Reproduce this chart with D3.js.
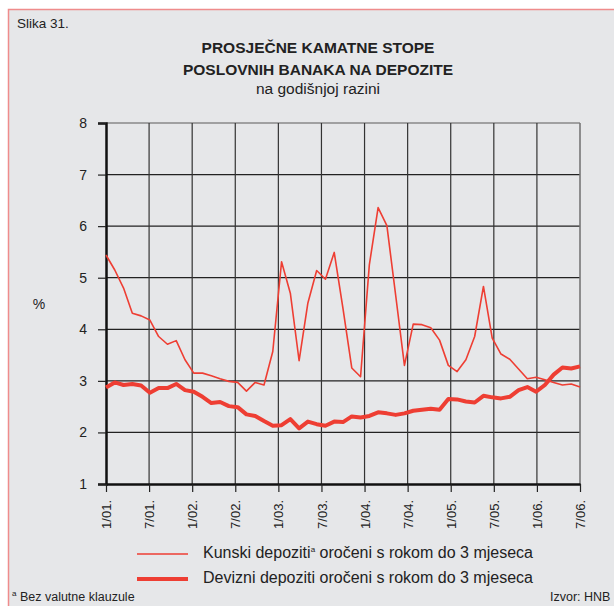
<!DOCTYPE html>
<meta charset="utf-8">
<style>
  body { margin: 0; background: #fff; }
  svg { font-family: "Liberation Sans", Arial, sans-serif; }
</style>
<svg width="614" height="606"></svg>
<script src="https://d3js.org/d3.v7.min.js"></script>
<script>

  // tick labels on the time axis (half-year steps)
  var tickLabels = ["1/01.", "7/01.", "1/02.", "7/02.", "1/03.", "7/03.",
    "1/04.", "7/04.", "1/05.", "7/05.", "1/06.", "7/06."];

  // Kunski depoziti oroceni s rokom do 3 mjeseca
  var kunski = [5.44, 5.15, 4.80, 4.31, 4.26, 4.18, 3.86, 3.71, 3.78, 3.41,
    3.15, 3.15, 3.10, 3.04, 2.99, 2.97, 2.80, 2.97, 2.92, 3.57,
    5.31, 4.70, 3.39, 4.51, 5.14, 4.97, 5.49, 4.40, 3.25, 3.08,
    5.25, 6.36, 6.01, 4.66, 3.30, 4.10, 4.09, 4.03, 3.79, 3.30,
    3.18, 3.41, 3.86, 4.83, 3.83, 3.52, 3.42, 3.23, 3.04, 3.07,
    3.02, 2.97, 2.92, 2.94, 2.88];

  // Devizni depoziti oroceni s rokom do 3 mjeseca
  var devizni = [2.87, 2.97, 2.92, 2.94, 2.91, 2.77, 2.86, 2.86, 2.94, 2.82,
    2.79, 2.69, 2.57, 2.59, 2.51, 2.49, 2.35, 2.32, 2.22, 2.13,
    2.14, 2.26, 2.08, 2.21, 2.16, 2.13, 2.21, 2.20, 2.31, 2.29,
    2.32, 2.39, 2.37, 2.34, 2.37, 2.42, 2.44, 2.46, 2.44, 2.65,
    2.64, 2.60, 2.58, 2.71, 2.68, 2.66, 2.69, 2.82, 2.88, 2.79,
    2.92, 3.12, 3.26, 3.24, 3.28];

  var yTicks = [1, 2, 3, 4, 5, 6, 7, 8];

  var red = "#ee3e33";

  var svg = d3.select("svg");

  // panel
  svg.append("rect")
    .attr("x", 8.5).attr("y", 9.5)
    .attr("width", 640).attr("height", 640)
    .attr("fill", "#e6e7e9")
    .attr("stroke", "#ef8c8c")
    .attr("stroke-width", 1.5);

  svg.append("text").attr("x", 17).attr("y", 28)
    .attr("font-size", 13.5).attr("fill", "#222").text("Slika 31.");

  var title = svg.append("g").attr("text-anchor", "middle").attr("fill", "#222");
  title.append("text").attr("x", 318).attr("y", 53)
    .attr("font-size", 15.5).attr("font-weight", "bold").text("PROSJEČNE KAMATNE STOPE");
  title.append("text").attr("x", 318).attr("y", 75)
    .attr("font-size", 15.5).attr("font-weight", "bold").text("POSLOVNIH BANAKA NA DEPOZITE");
  title.append("text").attr("x", 318).attr("y", 94)
    .attr("font-size", 15.5).text("na godišnjoj razini");

  var plotLeft = 106, plotRight = 580, plotTop = 123, plotBottom = 484;

  var x = d3.scaleLinear().domain([0, kunski.length - 1]).range([plotLeft, plotRight]);
  var xt = d3.scalePoint().domain(tickLabels).range([plotLeft, plotRight]);
  var y = d3.scaleLinear().domain([1, 8]).range([plotBottom, plotTop]);

  // horizontal grid
  svg.append("g")
    .selectAll("line").data(yTicks.slice(1)).enter().append("line")
    .attr("x1", plotLeft).attr("x2", plotRight)
    .attr("y1", function (d) { return y(d); })
    .attr("y2", function (d) { return y(d); })
    .attr("stroke", function (d) { return d === 8 ? "#888" : "#222"; })
    .attr("stroke-width", function (d) { return d === 8 ? 1.5 : 1.2; });

  // vertical grid
  svg.append("g")
    .selectAll("line").data(tickLabels.slice(1)).enter().append("line")
    .attr("x1", function (d) { return xt(d); })
    .attr("x2", function (d) { return xt(d); })
    .attr("y1", plotTop).attr("y2", plotBottom)
    .attr("stroke", function (d, i) { return i === tickLabels.length - 2 ? "#777" : "#333"; })
    .attr("stroke-width", function (d, i) { return i === tickLabels.length - 2 ? 1.6 : 1.2; });

  // y axis
  var yAxis = svg.append("g")
    .attr("transform", "translate(" + plotLeft + ",0)")
    .call(d3.axisLeft(y).tickValues(yTicks).tickSize(8).tickPadding(11)
      .tickFormat(d3.format("d")));
  yAxis.select(".domain").attr("stroke", "#111").attr("stroke-width", 2.5);
  yAxis.selectAll(".tick line").attr("stroke", "#222").attr("stroke-width", 1.2);
  yAxis.selectAll(".tick text").attr("font-size", 14).attr("fill", "#222")
    .attr("font-family", "Liberation Sans, Arial, sans-serif");

  // x axis
  var xAxis = svg.append("g")
    .attr("transform", "translate(0," + plotBottom + ")")
    .call(d3.axisBottom(xt).tickSize(8).tickSizeOuter(0));
  xAxis.select(".domain").attr("stroke", "#111").attr("stroke-width", 2.5);
  xAxis.selectAll(".tick line").attr("stroke", "#222").attr("stroke-width", 1.2);
  xAxis.selectAll(".tick text")
    .attr("font-size", 13).attr("fill", "#222")
    .attr("font-family", "Liberation Sans, Arial, sans-serif")
    .attr("text-anchor", "end")
    .attr("transform", "rotate(-90)")
    .attr("x", -16).attr("y", 0).attr("dy", "0.35em");

  svg.append("text").attr("x", 39).attr("y", 309)
    .attr("font-size", 14).attr("fill", "#222").attr("text-anchor", "middle").text("%");

  var line = d3.line()
    .x(function (d, i) { return x(i); })
    .y(function (d) { return y(d); });

  svg.append("path").datum(devizni)
    .attr("fill", "none").attr("stroke", red).attr("stroke-width", 4)
    .attr("stroke-linejoin", "round").attr("d", line);

  svg.append("path").datum(kunski)
    .attr("fill", "none").attr("stroke", red).attr("stroke-width", 1.6)
    .attr("stroke-linejoin", "round").attr("d", line);

  // legend
  var legend = svg.append("g").attr("fill", "#222");
  legend.append("line").attr("x1", 137).attr("x2", 188).attr("y1", 554).attr("y2", 554)
    .attr("stroke", red).attr("stroke-width", 1.6);
  legend.append("line").attr("x1", 137).attr("x2", 188).attr("y1", 579).attr("y2", 579)
    .attr("stroke", red).attr("stroke-width", 4);
  var t1 = legend.append("text").attr("x", 203).attr("y", 558).attr("font-size", 16);
  t1.append("tspan").text("Kunski depoziti");
  t1.append("tspan").attr("font-size", 8).attr("dy", -6).text("a");
  t1.append("tspan").attr("dy", 6).text(" oročeni s rokom do 3 mjeseca");
  legend.append("text").attr("x", 203).attr("y", 583).attr("font-size", 16)
    .text("Devizni depoziti oročeni s rokom do 3 mjeseca");

  // footnote and source
  var foot = svg.append("text").attr("x", 12).attr("y", 601).attr("font-size", 12.5).attr("fill", "#222");
  foot.append("tspan").attr("font-size", 8).attr("dy", -5).text("a");
  foot.append("tspan").attr("dy", 5).text(" Bez valutne klauzule");
  svg.append("text").attr("x", 550).attr("y", 601).attr("font-size", 12.5).attr("fill", "#222")
    .text("Izvor: HNB");

</script>
